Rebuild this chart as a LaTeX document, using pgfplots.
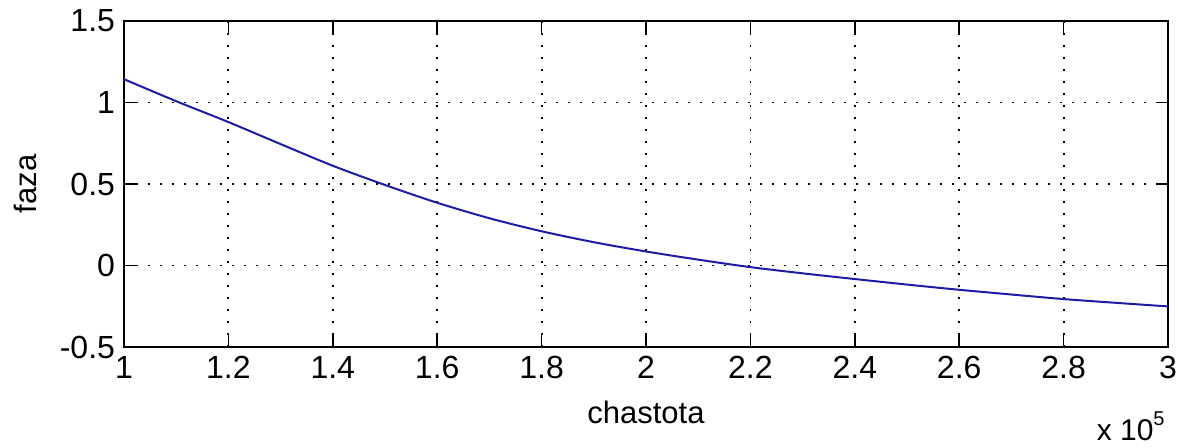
\documentclass[border=0pt]{standalone}
\usepackage{fontspec}
\setmainfont{Liberation Sans}
\usepackage{pgfplots}
\pgfplotsset{compat=1.18}

\definecolor{phaseblue}{RGB}{28,28,165}

\begin{document}
\begin{tikzpicture}
\useasboundingbox (-62bp,-50.5bp) rectangle (527bp,173.5bp);
\begin{axis}[
  at={(0,0)}, anchor=south west,
  scale only axis,
  width=522bp, height=163bp,
  xmin=1, xmax=3, ymin=-0.5, ymax=1.5,
  xtick={1,1.2,1.4,1.6,1.8,2,2.2,2.4,2.6,2.8,3},
  ytick={-0.5,0,0.5,1,1.5},
  /pgf/number format/assume math mode=true,
  /pgf/number format/fixed,
  /pgf/number format/precision=1,
  font=\fontsize{16bp}{19bp}\selectfont,
  grid=major,
  major grid style={black, line width=0.9bp, dash pattern=on 0.9bp off 5.1bp},
  tick align=inside,
  major tick length=6bp,
  tick style={black, line width=0.8bp},
  axis line style={black, line width=0.8bp},
  xticklabel style={yshift=-1bp},
  yticklabel style={xshift=-1bp},
  xlabel={chastota},
  ylabel={faza},
  xlabel style={at={(axis description cs:0.5,0)}, anchor=base, yshift=-38bp,
                font=\fontsize{15.5bp}{18bp}\selectfont},
  ylabel style={at={(axis description cs:0,0.5)}, anchor=center, yshift=49.5bp,
                font=\fontsize{15.5bp}{18bp}\selectfont},
]
\addplot[phaseblue, line width=1bp, smooth] coordinates {
  (1.0,1.143) (1.1,1.008) (1.2,0.880) (1.3,0.745) (1.4,0.612)
  (1.5,0.494) (1.6,0.385) (1.7,0.290) (1.8,0.210) (1.9,0.143)
  (2.0,0.086) (2.1,0.036) (2.2,-0.010) (2.3,-0.048) (2.4,-0.083)
  (2.5,-0.117) (2.6,-0.149) (2.7,-0.178) (2.8,-0.206) (2.9,-0.229)
  (3.0,-0.251)
};
\end{axis}
% exponent of the frequency axis
\node[anchor=base east, inner sep=0pt, font=\fontsize{15bp}{18bp}\selectfont]
  at (520.5bp,-46.5bp)
  {x 10\raisebox{7.5bp}{\fontsize{10bp}{12bp}\selectfont 5}};
\end{tikzpicture}
\end{document}
